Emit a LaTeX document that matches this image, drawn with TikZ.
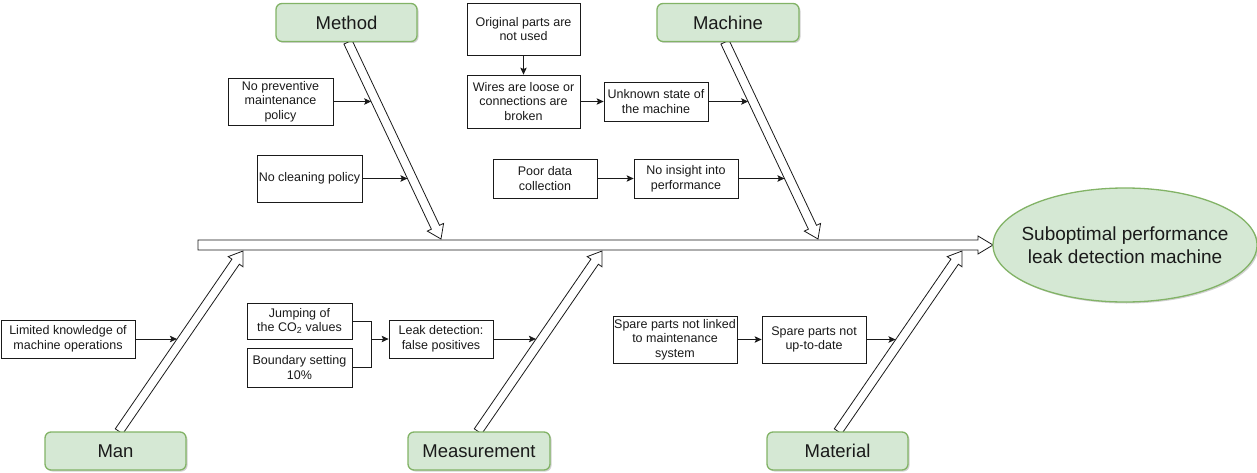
\documentclass[tikz,border=0pt]{standalone}
\usepackage{fontspec}
\setmainfont{Liberation Sans}
\usetikzlibrary{arrows.meta,calc,shapes.geometric,shadows,backgrounds}

\definecolor{catfill}{HTML}{D5E8D4}
\definecolor{catline}{HTML}{82B366}
\definecolor{ink}{HTML}{1A1A1A}

% Hollow (outlined) block arrow from #1 to #2:
% #3 body half-width, #4 head half-width, #5 head length
\newcommand{\hollowarrow}[5]{%
  \path ($(#2)!#5!(#1)$) coordinate (hbase);
  \draw[bone]
    ($(#1)!#3!90:(#2)$) -- ($(hbase)!#3!90:(#2)$) -- ($(hbase)!#4!90:(#2)$)
    -- (#2)
    -- ($(hbase)!#4!-90:(#2)$) -- ($(hbase)!#3!-90:(#2)$) -- ($(#1)!#3!-90:(#2)$)
    -- cycle;}

\tikzset{
  cause/.style={draw=ink, line width=0.8pt, fill=white, align=center,
    inner sep=1pt, text=ink, font=\fontsize{12.5pt}{14.6pt}\selectfont},
  category/.style={draw=catline, line width=1.3pt, fill=catfill, rounded corners=6pt,
    minimum width=141, minimum height=38, text=ink,
    font=\fontsize{18.5pt}{22pt}\selectfont,
    drop shadow={shadow xshift=1.5pt, shadow yshift=-1.5pt, opacity=0.18, fill=black}},
  effectnode/.style={ellipse, draw=catline, line width=1.3pt, fill=catfill,
    inner xsep=-30pt, inner ysep=0pt, outer sep=0pt,
    minimum width=264, minimum height=114, align=center, text=ink,
    font=\fontsize{19pt}{23pt}\selectfont,
    drop shadow={shadow xshift=1.5pt, shadow yshift=-1.5pt, opacity=0.18, fill=black}},
  bone/.style={draw=ink, line width=0.8pt, fill=white, line join=miter},
  arr/.style={draw=ink, line width=0.8pt, -{Stealth[length=7pt,width=6.5pt,inset=1.5pt]}},
  joinline/.style={draw=ink, line width=0.8pt},
}

\begin{document}
\begin{tikzpicture}[x=1pt,y=-1pt]
\useasboundingbox (0,0) rectangle (1257,473);

% effect
\node[effectnode] (effect) at (1125,245) {Suboptimal performance\\leak detection machine};

% categories
\node[category] (method)   at (346.5,22.5) {Method};
\node[category, minimum width=142] (machine)  at (728,22.5)   {Machine};
\node[category] (man)      at (115.5,451)  {Man};
\node[category, minimum width=142] (meas)     at (479,451)    {Measurement};
\node[category] (material) at (837.5,451)  {Material};

% causes: method
\node[cause, minimum width=105, minimum height=47] (noprev) at (280.5,101.5) {No preventive\\maintenance\\policy};
\node[cause, minimum width=105, minimum height=47] (nocl)   at (309.5,178.5) {No cleaning policy};

% causes: machine
\node[cause, minimum width=113, minimum height=52] (orig)     at (523.5,29)    {Original parts are\\not used};
\node[cause, minimum width=113, minimum height=53] (wires)    at (523.5,101.5) {Wires are loose or\\connections are\\broken};
\node[cause, minimum width=104, minimum height=39] (unknown)  at (656,101.5)   {Unknown state of\\the machine};
\node[cause, minimum width=104, minimum height=39] (poor)     at (545,178.5)   {Poor data\\collection};
\node[cause, minimum width=104, minimum height=39] (insight)  at (686,178.5)   {No insight into\\performance};

% causes: man
\node[cause, minimum width=134, minimum height=38] (limited)  at (68,339)      {Limited knowledge of\\machine operations};

% causes: measurement
\node[cause, minimum width=105, minimum height=36] (jump)     at (299.5,321)   {Jumping of\\the CO\textsubscript{2} values};
\node[cause, minimum width=105, minimum height=39] (bound)    at (299.5,367.5) {Boundary setting\\10\%};
\node[cause, minimum width=104, minimum height=38] (leak)     at (441,339)     {Leak detection:\\false positives};

% causes: material
\node[cause, minimum width=124, minimum height=47] (linked)   at (675,339.5)   {Spare parts not linked\\to maintenance\\system};
\node[cause, minimum width=104, minimum height=47] (uptodate) at (814,339.5)   {Spare parts not\\up-to-date};

% bone end points
\coordinate (spineTail) at (198,245);
\coordinate (methodTip)  at (441,239);
\coordinate (machineTip) at (818,239);
\coordinate (manTip)     at (243,251);
\coordinate (measTip)    at (602,251);
\coordinate (matTip)     at (962,251);

% points where the cause arrows meet the bones
\coordinate (hitNoPrev)   at (371.1,101.5);
\coordinate (hitNoCl)     at (407.4,178.5);
\coordinate (hitUnknown)  at (748.1,101.5);
\coordinate (hitInsight)  at (784.4,178.5);
\coordinate (hitLimited)  at (176.9,339);
\coordinate (hitLeak)     at (535.9,339);
\coordinate (hitUptodate) at (895.5,339.5);

\begin{pgfonlayer}{background}
  \hollowarrow{$(method.south)+(1.5,0)$}{methodTip}{4.5pt}{9pt}{13pt}
  \hollowarrow{$(machine.south)+(-3,0)$}{machineTip}{4.5pt}{9pt}{13pt}
  \hollowarrow{$(man.north)+(3.5,0)$}{manTip}{4.5pt}{9pt}{13pt}
  \hollowarrow{$(meas.north)+(-1,0)$}{measTip}{4.5pt}{9pt}{13pt}
  \hollowarrow{$(material.north)+(0.5,0)$}{matTip}{4.5pt}{9pt}{13pt}
  \hollowarrow{spineTail}{effect.west}{5pt}{9pt}{15pt}
\end{pgfonlayer}

% cause connectors
\draw[arr] (noprev.east) -- (hitNoPrev);
\draw[arr] (nocl.east) -- (hitNoCl);
\draw[arr] (orig) -- (wires);
\draw[arr] (wires.east) -- (unknown.west);
\draw[arr] (unknown.east) -- (hitUnknown);
\draw[arr] (poor) -- (insight);
\draw[arr] (insight.east) -- (hitInsight);
\draw[arr] (limited.east) -- (hitLimited);
\draw[joinline] (jump.east) -- ++(19,0) coordinate (joinTop) |- (bound.east);
\coordinate (join) at (joinTop |- leak.west);
\draw[arr] (join) -- (leak.west);
\draw[arr] (leak.east) -- (hitLeak);
\draw[arr] (linked) -- (uptodate);
\draw[arr] (uptodate.east) -- (hitUptodate);
\end{tikzpicture}
\end{document}
